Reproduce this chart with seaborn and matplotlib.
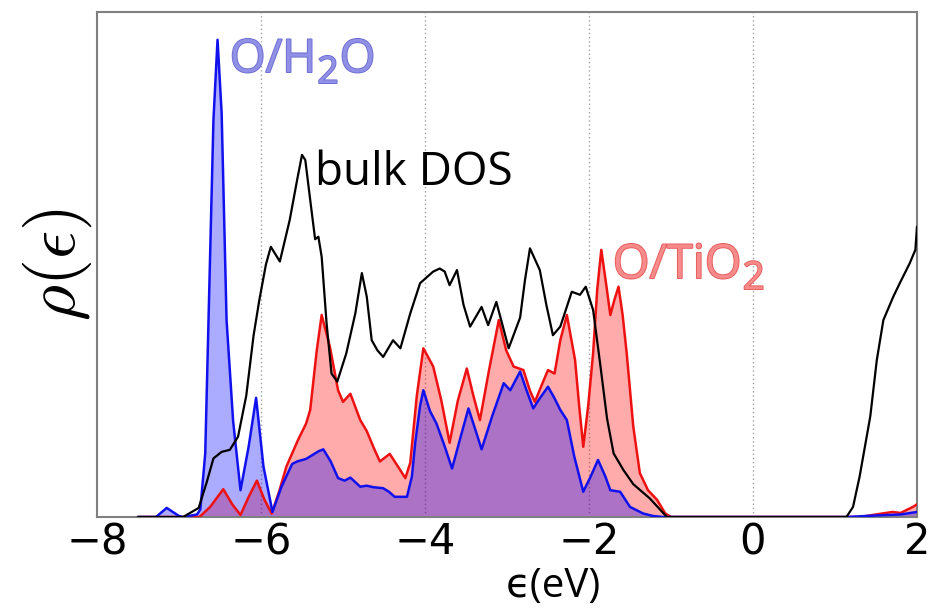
import matplotlib
matplotlib.use("Agg")
import matplotlib.pyplot as plt
import matplotlib.patheffects as pe
import matplotlib.transforms as mtransforms
import seaborn as sns

# ---- data (energy in eV, DOS in arbitrary units, axis top = 100) ----
h2o_e = [-7.5, -7.28, -7.15, -7.0, -6.95, -6.78, -6.74, -6.68, -6.64, -6.58, -6.53,
         -6.48, -6.42, -6.34, -6.25, -6.15, -6.06, -5.97, -5.86, -5.75, -5.62, -5.56,
         -5.45, -5.30, -5.24, -5.15, -5.06, -4.98, -4.91, -4.79, -4.71, -4.63, -4.51,
         -4.44, -4.37, -4.22, -4.16, -4.12, -4.06, -4.02, -3.94, -3.86, -3.76, -3.67,
         -3.58, -3.47, -3.38, -3.31, -3.18, -3.04, -2.96, -2.84, -2.76, -2.68, -2.60,
         -2.50, -2.42, -2.35, -2.27, -2.18, -2.07, -1.98, -1.89, -1.80, -1.74, -1.62,
         -1.50, -1.34, -1.22, -1.10, 1.15, 1.50, 1.80, 2.0]
h2o_v = [0, 0, 1.8, 0.2, 0, 0.5, 1.5, 12.6, 39, 78.6, 94.5,
         80, 39, 19, 5.3, 14, 23.6, 10, 1.0, 6, 10.5, 11,
         11.5, 13, 13.4, 11, 7.7, 7.2, 7.8, 6, 6.2, 5.9, 5.7,
         5, 4.0, 4.0, 8, 14.6, 22, 25.1, 21, 18.5, 14, 9.6,
         15, 21.5, 17, 13.4, 20, 26.5, 25.1, 28.8, 25, 21.5, 23.5,
         25.8, 23.5, 21.2, 19.2, 12, 5.0, 8, 11.3, 8, 5.3, 5.0,
         2.0, 0.7, 0.2, 0, 0, 0.3, 0.5, 1.0]

tio2_e = [-7.5, -6.75, -6.62, -6.46, -6.35, -6.25, -6.15, -6.05, -5.96, -5.87, -5.78,
          -5.69, -5.55, -5.45, -5.40, -5.32, -5.26, -5.16, -5.06, -5.00, -4.91, -4.79,
          -4.71, -4.62, -4.55, -4.43, -4.33, -4.24, -4.18, -4.10, -4.02, -3.90, -3.80,
          -3.70, -3.60, -3.49, -3.41, -3.33, -3.22, -3.10, -3.01, -2.92, -2.80, -2.72,
          -2.66, -2.58, -2.50, -2.42, -2.35, -2.27, -2.17, -2.12, -2.07, -2.01, -1.95,
          -1.90, -1.85, -1.79, -1.74, -1.69, -1.64, -1.59, -1.54, -1.46, -1.38, -1.28,
          -1.17, -1.07, -1.00, 1.30, 1.50, 1.70, 1.80, 1.95, 2.0]
tio2_v = [0, 0, 2, 5.5, 2.5, 0.4, 4, 7.2, 3.5, 0.7, 5,
          10, 15.2, 18.5, 21.2, 33, 40, 33.7, 25.1, 22.8, 24.4, 19.2,
          17, 13.5, 11, 12.5, 10, 7.7, 10.7, 24, 33.4, 29.8, 23,
          14.7, 23, 29.4, 24, 19.2, 29, 39, 33, 29.8, 29.1, 25,
          22.8, 26, 29.1, 28.4, 35, 40, 31.1, 22, 13.9, 22, 32.4,
          45, 52.9, 46, 40, 43, 45.6, 40, 32.4, 17.9, 8.7, 5.3,
          3.4, 0.7, 0, 0, 0.5, 1.0, 0.8, 2.0, 2.5]

bulk_e = [-7.5, -6.95, -6.76, -6.66, -6.58, -6.48, -6.38, -6.28, -6.18, -6.09, -6.02,
          -5.94, -5.88, -5.77, -5.65, -5.56, -5.50, -5.46, -5.40, -5.34, -5.30, -5.26,
          -5.20, -5.14, -5.07, -4.96, -4.85, -4.77, -4.71, -4.65, -4.58, -4.51, -4.39,
          -4.30, -4.18, -4.06, -3.90, -3.82, -3.76, -3.70, -3.61, -3.53, -3.45, -3.31,
          -3.23, -3.13, -2.98, -2.84, -2.78, -2.72, -2.60, -2.52, -2.44, -2.35, -2.21,
          -2.11, -2.04, -1.95, -1.87, -1.78, -1.70, -1.58, -1.46, -1.26, -1.05, 1.14,
          1.22, 1.30, 1.43, 1.51, 1.59, 1.71, 1.79, 1.91, 1.98, 2.0]
bulk_v = [0, 0, 1.8, 7, 11.6, 12.9, 13.3, 15.9, 24, 36, 43,
          50, 53.5, 50.6, 58.8, 66.7, 71.7, 70.7, 62.8, 55, 55.5, 51.5,
          38.3, 28.4, 26.8, 32.4, 40.3, 48.3, 43.6, 35.0, 33, 31.7, 35.0,
          33.4, 40.3, 46.3, 48.6, 49.2, 48.6, 45.9, 48.9, 42, 37.7, 41.6,
          38.0, 42.6, 33.4, 39.5, 47, 53.2, 48.9, 42, 36.0, 37.7, 44.6,
          44.0, 45.6, 41.0, 31.1, 19.5, 12.6, 9.3, 6.5, 3.7, 0, 0,
          2, 8, 19.9, 31.1, 39, 43.6, 46.3, 50.2, 52.9, 57.5]

xticks = [-8, -6, -4, -2, 0, 2]
grid_x = [-6, -4, -2, 0]

# label pieces: (text, is_subscript)
h2o_label = [("O/H", False), ("2", True), ("O", False)]
tio2_label = [("O/TiO", False), ("2", True)]
bulk_label = "bulk DOS"

# ---- figure ----
sns.set_theme(style="white")
plt.rcParams["font.family"] = ["DejaVu Sans"]
plt.rcParams["axes.unicode_minus"] = True
plt.rcParams["mathtext.fontset"] = "cm"

fig = plt.figure(figsize=(9.31, 6.11), dpi=100)
ax = fig.add_axes([97 / 931, 94 / 611, 820 / 931, 505 / 611])

for g in grid_x:
    ax.axvline(g, color="#a0a0a0", lw=1.0, ls=(0, (1, 2)), zorder=0)

ax.fill_between(tio2_e, tio2_v, 0, color="#ff0000", alpha=0.33, lw=0, zorder=1)
ax.fill_between(h2o_e, h2o_v, 0, color="#0000ff", alpha=0.33, lw=0, zorder=2)

sns.lineplot(x=tio2_e, y=tio2_v, ax=ax, color="#ee1111", lw=1.8, sort=False,
             estimator=None, zorder=3)
sns.lineplot(x=h2o_e, y=h2o_v, ax=ax, color="#1111ee", lw=1.8, sort=False,
             estimator=None, zorder=4)
sns.lineplot(x=bulk_e, y=bulk_v, ax=ax, color="black", lw=1.6, sort=False,
             estimator=None, zorder=5)

ax.set_xlim(-8, 2)
ax.set_ylim(0, 100)
ax.set_xticks(xticks)
ax.set_yticks([])
ax.tick_params(axis="x", labelsize=30, direction="in", length=3, color="#808080",
               pad=3, labelcolor="black")
for s in ax.spines.values():
    s.set_color("#808080")
    s.set_linewidth(1.5)

ax.set_xlabel("\u03f5(eV)", fontsize=29, family=["Open Sans", "DejaVu Sans"],
              color="black")
ax.xaxis.set_label_coords(0.557, -0.098)
ax.set_ylabel(r"$\rho(\epsilon)$", fontsize=50, labelpad=2, color="black")

renderer = fig.canvas.get_renderer()
LABEL_FONT = ["Open Sans", "DejaVu Sans"]


def piece_label(x, y, pieces, size, color, edge):
    off = 0.0
    for txt, sub in pieces:
        tr = mtransforms.offset_copy(ax.transData, fig=fig, x=off,
                                     y=(-11 if sub else 0), units="dots")
        t = ax.text(x, y, txt, transform=tr, fontsize=size * (0.82 if sub else 1.0),
                    family=LABEL_FONT, color=color, ha="left", va="baseline", zorder=6,
                    path_effects=[pe.Stroke(linewidth=1.3, foreground=edge), pe.Normal()])
        off += t.get_window_extent(renderer).width + 1


piece_label(-6.38, 88.1, h2o_label, 33, "#9090e6", "#6c6cd2")
piece_label(-1.71, 47.3, tio2_label, 34, "#f78a8a", "#e65a5a")
ax.text(-5.34, 65.7, bulk_label, fontsize=33, family=LABEL_FONT, color="black",
        ha="left", va="baseline", zorder=6)

fig.savefig("out.png", dpi=100, facecolor="white")
